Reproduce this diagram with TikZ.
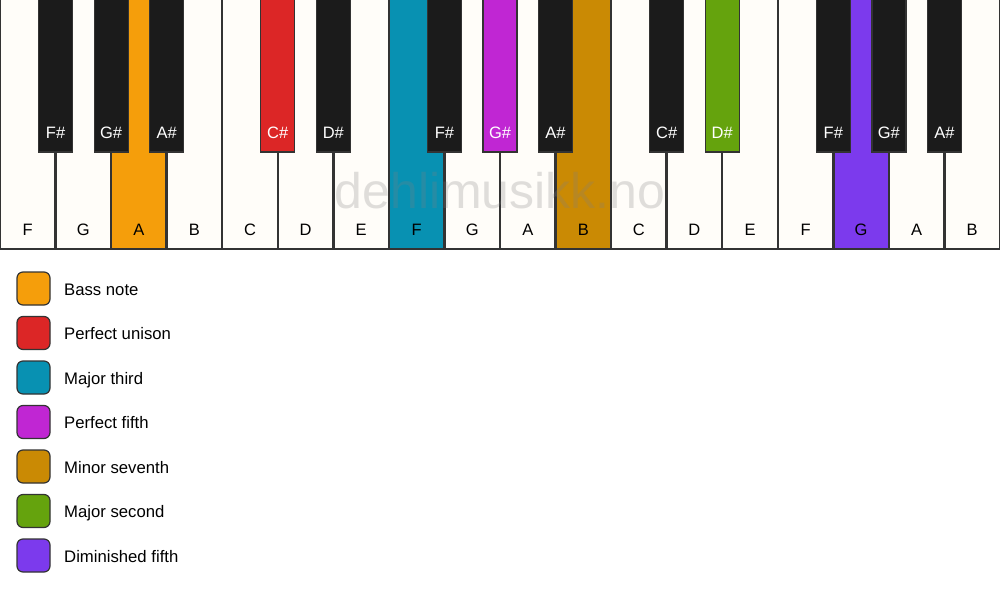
\documentclass[tikz,border=0pt]{standalone}
\usepackage{fontspec}
\setmainfont{Liberation Sans}
\definecolor{wkey}{HTML}{FFFDF9}
\definecolor{bkey}{HTML}{1B1B1B}
\definecolor{edge}{HTML}{333333}
\definecolor{cOrange}{HTML}{F59E0B}
\definecolor{cRed}{HTML}{DC2626}
\definecolor{cTeal}{HTML}{0891B2}
\definecolor{cMag}{HTML}{C026D3}
\definecolor{cBrown}{HTML}{CA8A04}
\definecolor{cGreen}{HTML}{65A30D}
\definecolor{cPurple}{HTML}{7C3AED}
\begin{document}
\begin{tikzpicture}[x=1pt,y=-1pt,
  whitekey/.style={draw=edge,line width=1.5pt},
  blackkey/.style={draw=edge,line width=1.2pt},
  wlabel/.style={anchor=base,text=black,font=\fontsize{16.5}{19}\selectfont,inner sep=0pt},
  blabel/.style={anchor=base,text=white,font=\fontsize{16.5}{19}\selectfont,inner sep=0pt},
  legbox/.style={draw=edge,line width=1.2pt,rounded corners=6pt,minimum width=33pt,minimum height=33pt,inner sep=0pt},
  legtext/.style={anchor=base west,font=\fontsize{16.7}{19}\selectfont,inner sep=0pt}]
\fill[white] (0,0) rectangle (1000,594);
\useasboundingbox (0,0) rectangle (1000,594);
\def\kw{55.5556}
% white keys
\foreach \i/\n/\c in {0/F/wkey,1/G/wkey,2/A/cOrange,3/B/wkey,4/C/wkey,5/D/wkey,6/E/wkey,7/F/cTeal,8/G/wkey,9/A/wkey,10/B/cBrown,11/C/wkey,12/D/wkey,13/E/wkey,14/F/wkey,15/G/cPurple,16/A/wkey,17/B/wkey}{
  \path[whitekey,fill=\c] ({\i*\kw+0.5},-2) rectangle ({(\i+1)*\kw-0.5},249);
  \node[wlabel] (w\i) at ({(\i+0.5)*\kw},235) {\n};
}
% watermark
\node[anchor=base,font=\fontsize{50}{52}\selectfont,text=gray,text opacity=0.25,inner sep=0pt] (wm) at (500,208) {dehlimusikk.no};
% black keys
\foreach \i/\n/\c in {1/F\#/bkey,2/G\#/bkey,3/A\#/bkey,5/C\#/cRed,6/D\#/bkey,8/F\#/bkey,9/G\#/cMag,10/A\#/bkey,12/C\#/bkey,13/D\#/cGreen,15/F\#/bkey,16/G\#/bkey,17/A\#/bkey}{
  \path[blackkey,fill=\c] ({\i*\kw-17},-2) rectangle ({\i*\kw+17},152);
  \node[blabel] (b\i) at ({\i*\kw},138) {\n};
}
% legend
\foreach \k/\c/\t in {0/cOrange/Bass note,1/cRed/Perfect unison,2/cTeal/Major third,3/cMag/Perfect fifth,4/cBrown/Minor seventh,5/cGreen/Major second,6/cPurple/Diminished fifth}{
  \node[legbox,fill=\c] (l\k) at (33.5,{288.5+\k*44.5}) {};
  \node[legtext] (t\k) at (64,{295+\k*44.5}) {\t};
}
\end{tikzpicture}
\end{document}
